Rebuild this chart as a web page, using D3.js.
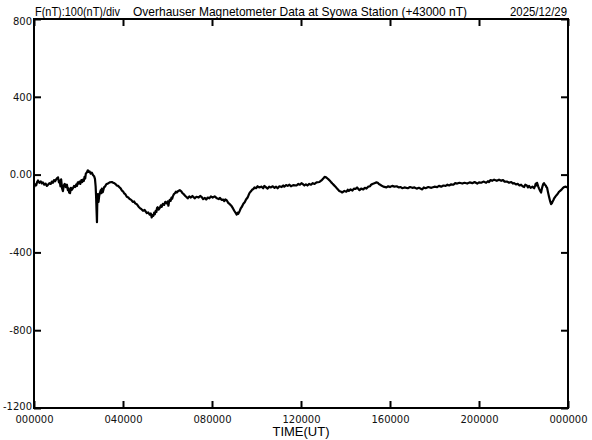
<!DOCTYPE html>
<html>
<head>
<meta charset="utf-8">
<script src="https://cdn.jsdelivr.net/npm/d3@7"></script>
<style>
  html, body { margin: 0; padding: 0; background: #fff; }
  svg { display: block; }
</style>
</head>
<body>
<svg id="chart" width="592" height="440"></svg>
<script>
// ---- data: [hour UT, F - 43000 nT] ----
const fReadings = [
  [0.00,-65],[0.05,-50],[0.10,-55],[0.14,-38],[0.18,-30],[0.24,-42],[0.30,-35],[0.35,-45],[0.40,-40],[0.46,-52],
  [0.52,-46],[0.58,-58],[0.63,-52],[0.69,-44],[0.75,-48],[0.80,-36],[0.85,-42],[0.90,-28],[0.95,-34],[1.02,-20],
  [1.08,-14],[1.12,-40],[1.15,-30],[1.19,-60],[1.22,-25],[1.26,-70],[1.30,-85],[1.34,-55],[1.38,-48],[1.43,-65],
  [1.48,-52],[1.52,-80],[1.55,-70],[1.58,-92],[1.62,-95],[1.66,-68],[1.70,-78],[1.75,-70],[1.80,-58],[1.85,-64],
  [1.90,-50],[1.93,-58],[1.97,-40],[2.00,-46],[2.04,-36],[2.08,-48],[2.13,-28],[2.17,-38],[2.20,-26],[2.24,-32],
  [2.27,-12],[2.30,-20],[2.33,5],[2.38,12],[2.42,22],[2.46,14],[2.50,16],[2.55,5],[2.60,10],[2.65,-2],
  [2.70,-8],[2.74,-22],[2.77,-60],[2.79,-110],[2.81,-180],[2.83,-245],[2.84,-170],[2.85,-130],[2.87,-100],[2.90,-140],
  [2.93,-110],[2.96,-95],[3.00,-80],[3.03,-95],[3.05,-72],[3.09,-90],[3.12,-78],[3.15,-65],[3.19,-62],[3.25,-50],
  [3.32,-46],[3.40,-40],[3.50,-38],[3.56,-42],[3.62,-45],[3.68,-50],[3.72,-56],[3.78,-58],[3.85,-66],[3.90,-72],
  [3.95,-82],[4.00,-86],[4.05,-96],[4.10,-100],[4.17,-114],[4.24,-118],[4.30,-126],[4.37,-130],[4.44,-140],[4.50,-138],
  [4.55,-148],[4.62,-152],[4.70,-165],[4.76,-172],[4.83,-178],[4.90,-186],[4.97,-182],[5.07,-198],[5.13,-194],[5.20,-206],
  [5.25,-200],[5.29,-220],[5.33,-208],[5.36,-212],[5.40,-196],[5.43,-204],[5.47,-186],[5.50,-192],[5.53,-172],[5.56,-168],
  [5.60,-180],[5.65,-172],[5.70,-158],[5.74,-166],[5.79,-150],[5.85,-156],[5.90,-140],[5.97,-148],[6.01,-138],[6.04,-160],
  [6.07,-140],[6.10,-130],[6.14,-135],[6.18,-118],[6.21,-124],[6.24,-112],[6.29,-100],[6.33,-96],[6.38,-88],[6.42,-92],
  [6.48,-84],[6.55,-80],[6.62,-86],[6.68,-96],[6.74,-102],[6.80,-110],[6.86,-116],[6.91,-122],[6.98,-112],[7.05,-118],
  [7.12,-110],[7.22,-122],[7.30,-114],[7.40,-118],[7.47,-110],[7.54,-116],[7.60,-126],[7.68,-120],[7.74,-128],[7.81,-118],
  [7.88,-122],[7.95,-112],[8.03,-118],[8.12,-112],[8.20,-120],[8.30,-126],[8.36,-120],[8.43,-130],[8.50,-128],[8.55,-136],
  [8.60,-128],[8.66,-132],[8.73,-145],[8.80,-152],[8.88,-162],[8.95,-175],[9.00,-186],[9.05,-195],[9.11,-206],[9.15,-196],
  [9.18,-202],[9.24,-188],[9.30,-172],[9.35,-164],[9.41,-150],[9.47,-142],[9.53,-128],[9.60,-118],[9.65,-104],[9.69,-94],
  [9.75,-86],[9.80,-78],[9.86,-74],[9.91,-66],[9.98,-70],[10.05,-60],[10.12,-66],[10.23,-62],[10.30,-70],[10.35,-58],
  [10.42,-64],[10.50,-72],[10.57,-62],[10.65,-66],[10.73,-60],[10.81,-68],[10.88,-62],[10.95,-70],[11.03,-60],[11.13,-64],
  [11.20,-56],[11.25,-62],[11.33,-54],[11.40,-58],[11.48,-52],[11.55,-60],[11.65,-54],[11.80,-56],[11.88,-48],[11.95,-52],
  [12.02,-44],[12.07,-48],[12.15,-56],[12.22,-50],[12.29,-56],[12.37,-48],[12.45,-52],[12.53,-44],[12.61,-48],[12.70,-40],
  [12.83,-38],[12.92,-30],[13.00,-20],[13.06,-12],[13.13,-14],[13.19,-20],[13.25,-26],[13.30,-32],[13.36,-40],[13.41,-46],
  [13.48,-54],[13.55,-62],[13.62,-72],[13.72,-84],[13.80,-88],[13.85,-92],[13.95,-84],[14.04,-88],[14.10,-78],[14.15,-84],
  [14.23,-76],[14.31,-82],[14.38,-72],[14.45,-74],[14.52,-66],[14.63,-80],[14.70,-72],[14.80,-76],[14.87,-68],[14.94,-72],
  [15.02,-62],[15.10,-60],[15.15,-52],[15.21,-48],[15.30,-44],[15.39,-40],[15.45,-42],[15.50,-48],[15.56,-52],[15.61,-56],
  [15.70,-62],[15.84,-66],[15.92,-60],[16.00,-64],[16.10,-58],[16.20,-62],[16.30,-60],[16.40,-66],[16.48,-64],[16.55,-70],
  [16.65,-66],[16.80,-70],[16.90,-64],[17.00,-68],[17.10,-66],[17.20,-72],[17.30,-68],[17.45,-76],[17.52,-66],[17.60,-70],
  [17.72,-64],[17.86,-68],[18.00,-62],[18.12,-64],[18.20,-58],[18.30,-62],[18.40,-56],[18.50,-58],[18.58,-52],[18.66,-56],
  [18.75,-50],[18.85,-52],[18.93,-44],[19.02,-46],[19.12,-42],[19.25,-46],[19.35,-42],[19.47,-46],[19.58,-40],[19.70,-44],
  [19.80,-38],[19.92,-46],[20.00,-40],[20.10,-42],[20.20,-36],[20.32,-42],[20.40,-34],[20.45,-38],[20.52,-28],[20.59,-32],
  [20.68,-26],[20.80,-32],[20.90,-26],[21.00,-32],[21.08,-28],[21.15,-36],[21.27,-36],[21.35,-42],[21.45,-38],[21.52,-46],
  [21.58,-44],[21.66,-50],[21.75,-48],[21.82,-56],[21.89,-52],[21.96,-60],[22.03,-64],[22.08,-52],[22.15,-56],[22.20,-66],
  [22.25,-58],[22.32,-68],[22.40,-62],[22.48,-70],[22.52,-58],[22.55,-46],[22.58,-56],[22.61,-42],[22.66,-60],[22.70,-72],
  [22.75,-84],[22.79,-92],[22.83,-70],[22.86,-58],[22.89,-48],[22.92,-44],[22.96,-52],[23.00,-56],[23.03,-64],[23.06,-68],
  [23.10,-90],[23.15,-115],[23.20,-138],[23.24,-152],[23.28,-146],[23.30,-140],[23.34,-132],[23.37,-124],[23.44,-112],[23.50,-104],
  [23.55,-96],[23.60,-88],[23.66,-82],[23.72,-76],[23.78,-68],[23.82,-64],[23.90,-62],[23.96,-66]
];
const xMajorHours = [0, 4, 8, 12, 16, 20, 24];
const xTickLabels = ["000000", "040000", "080000", "120000", "160000", "200000", "000000"];
const yMajorValues = [800, 400, 0, -400, -800, -1200];
const yTickLabels = ["800", "400", "0.00", "-400", "-800", "-1200"];
const titleLeft = "F(nT):100(nT)/div";
const titleMain = "Overhauser Magnetometer Data at Syowa Station (+43000 nT)";
const dateLabel = "2025/12/29";
const xAxisTitle = "TIME(UT)";

// ---- layout ----
const L = 34, R = 568, T = 19, B = 408;
const svg = d3.select("#chart");
const x = d3.scaleLinear().domain([0, 24]).range([L, R]);
const y = d3.scaleLinear().domain([-1200, 800]).range([B, T]);

const xMinor = d3.range(0, 25, 1);
const yMinor = d3.range(-1200, 801, 100);
const tickFont = "'DejaVu Sans', sans-serif";

// bottom axis
const gB = svg.append("g").attr("transform", `translate(0,${B})`);
gB.call(d3.axisBottom(x).tickValues(xMinor).tickSize(-4).tickFormat(""));
gB.call(d3.axisBottom(x).tickValues(xMajorHours).tickSize(-7).tickPadding(8)
  .tickFormat((d, i) => xTickLabels[i]));
// top axis
const gT = svg.append("g").attr("transform", `translate(0,${T})`);
gT.call(d3.axisTop(x).tickValues(xMinor).tickSize(-4).tickFormat(""));
gT.call(d3.axisTop(x).tickValues(xMajorHours).tickSize(-7).tickFormat(""));
// left axis
const gL = svg.append("g").attr("transform", `translate(${L},0)`);
gL.call(d3.axisLeft(y).tickValues(yMinor).tickSize(-4).tickFormat(""));
gL.call(d3.axisLeft(y).tickValues(yMajorValues).tickSize(-7).tickPadding(2)
  .tickFormat((d, i) => yTickLabels[i]));
// right axis
const gR = svg.append("g").attr("transform", `translate(${R},0)`);
gR.call(d3.axisRight(y).tickValues(yMinor).tickSize(-4).tickFormat(""));
gR.call(d3.axisRight(y).tickValues(yMajorValues).tickSize(-7).tickFormat(""));

svg.selectAll(".domain").remove();
svg.selectAll(".tick line").attr("stroke", "#000").attr("stroke-width", 2);
svg.selectAll(".tick text").attr("font-family", tickFont).attr("font-size", 10).attr("fill", "#111");
gL.selectAll(".tick text").attr("dy", (d) => d === 800 ? "0.55em" : d === -1200 ? "0.1em" : "0.32em");

// frame
svg.append("rect").attr("x", L).attr("y", T).attr("width", R - L).attr("height", B - T)
  .attr("fill", "none").attr("stroke", "#000").attr("stroke-width", 2);

// data line
svg.append("path").datum(fReadings)
  .attr("fill", "none").attr("stroke", "#000").attr("stroke-width", 2.2)
  .attr("stroke-linejoin", "round")
  .attr("d", d3.line().x(d => x(d[0])).y(d => y(d[1])));

// titles
const titleFont = "'Liberation Sans', Arial, sans-serif";
svg.append("text").attr("x", 35).attr("y", 16).attr("font-family", titleFont).attr("font-size", 13)
  .attr("textLength", 85).attr("lengthAdjust", "spacingAndGlyphs").text(titleLeft);
svg.append("text").attr("x", 133).attr("y", 16).attr("font-family", titleFont).attr("font-size", 13)
  .attr("textLength", 334).attr("lengthAdjust", "spacingAndGlyphs").text(titleMain);
svg.append("text").attr("x", 510).attr("y", 16).attr("font-family", titleFont).attr("font-size", 13)
  .attr("textLength", 57).attr("lengthAdjust", "spacingAndGlyphs").text(dateLabel);
svg.append("text").attr("x", 301).attr("y", 436).attr("text-anchor", "middle")
  .attr("font-family", titleFont).attr("font-size", 13).text(xAxisTitle);
</script>
</body>
</html>
